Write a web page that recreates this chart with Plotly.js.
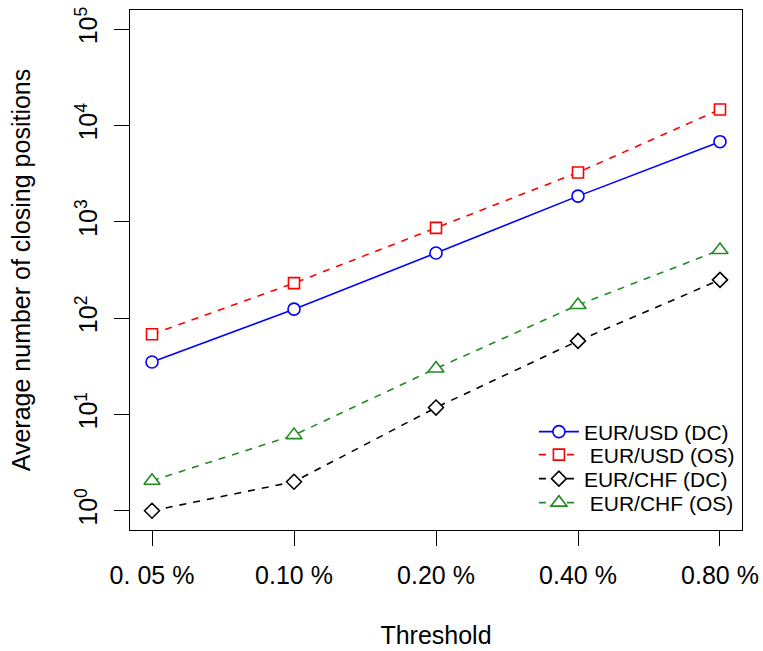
<!DOCTYPE html>
<html>
<head>
<meta charset="utf-8">
<script src="https://cdn.plot.ly/plotly-3.0.1.min.js"></script>
<style>html,body{margin:0;padding:0;background:#fff;}#chart{width:763px;height:651px;}</style>
</head>
<body>
<div id="chart"></div>
<script>
const categories = ["0. 05 %", "0.10 %", "0.20 %", "0.40 %", "0.80 %"];
const usdDC = [35, 124, 475, 1850, 6800];
const usdOS = [68, 231, 866, 3260, 14700];
const chfDC = [1, 2, 11.8, 58, 250];
const chfOS = [2.05, 6.1, 30, 137, 510];
const seriesNames = ["EUR/USD (DC)", "\u00A0EUR/USD (OS)", "EUR/CHF (DC)", "\u00A0EUR/CHF (OS)"];
const yTickVals = [1, 10, 100, 1000, 10000, 100000];
const yTickText = ["10<sup>0</sup>", "10<sup>1</sup>", "10<sup>2</sup>", "10<sup>3</sup>", "10<sup>4</sup>", "10<sup>5</sup>"];

const FONT = "Liberation Sans, Arial, Helvetica, sans-serif";
function tr(y, name, color, dash, symbol, size, legend) {
  return {
    x: categories, y: y, name: name, type: "scatter", mode: "lines+markers", legend: legend,
    line: {color: color, width: 1.6, dash: dash},
    marker: {symbol: symbol, size: size, color: "white", line: {color: color, width: 1.6}}
  };
}
const data = [
  tr(usdDC, seriesNames[0], "#0000FF", "solid", "circle", 12, "legend"),
  tr(usdOS, seriesNames[1], "#FF0000", "7px,7px", "square", 11, "legend2"),
  tr(chfDC, seriesNames[2], "#000000", "solid", "diamond", 11.5, "legend3"),
  tr(chfOS, seriesNames[3], "#228B22", "7px,7px", "triangle-up", 14, "legend4")
];
data[2].line.dash = "7px,7px";

function leg(y) {
  return {x: 0.66, xanchor: "left", y: y, yanchor: "middle", bgcolor: "rgba(0,0,0,0)",
          font: {size: 21, family: FONT}, itemwidth: 40};
}

const layout = {
  width: 763, height: 651,
  margin: {l: 130, r: 21, t: 10, b: 121, pad: 0},
  paper_bgcolor: "white", plot_bgcolor: "white",
  font: {family: FONT, size: 25, color: "black"},
  showlegend: true,
  legend: leg(0.1885),
  legend2: leg(0.1442),
  legend3: leg(0.0981),
  legend4: leg(0.0519),
  xaxis: {
    type: "category", range: [-0.155, 4.155],
    showgrid: false, zeroline: false, showline: true, mirror: true, linecolor: "black", linewidth: 1,
    ticks: "outside", ticklen: 15, tickwidth: 1, tickcolor: "black",
    tickfont: {size: 25}, ticklabelstandoff: 8,
    title: {text: "Threshold", font: {size: 25}, standoff: 38}
  },
  yaxis: {
    type: "log", range: [-0.2, 5.2],
    tickvals: yTickVals, ticktext: yTickText, tickangle: -90,
    showgrid: false, zeroline: false, showline: true, mirror: true, linecolor: "black", linewidth: 1,
    ticks: "outside", ticklen: 15, tickwidth: 1, tickcolor: "black",
    tickfont: {size: 25}, ticklabelstandoff: 7,
    title: {text: "Average number of closing positions", font: {size: 25}, standoff: 32}
  }
};
Plotly.newPlot("chart", data, layout, {displayModeBar: false, staticPlot: true});
</script>
</body>
</html>
